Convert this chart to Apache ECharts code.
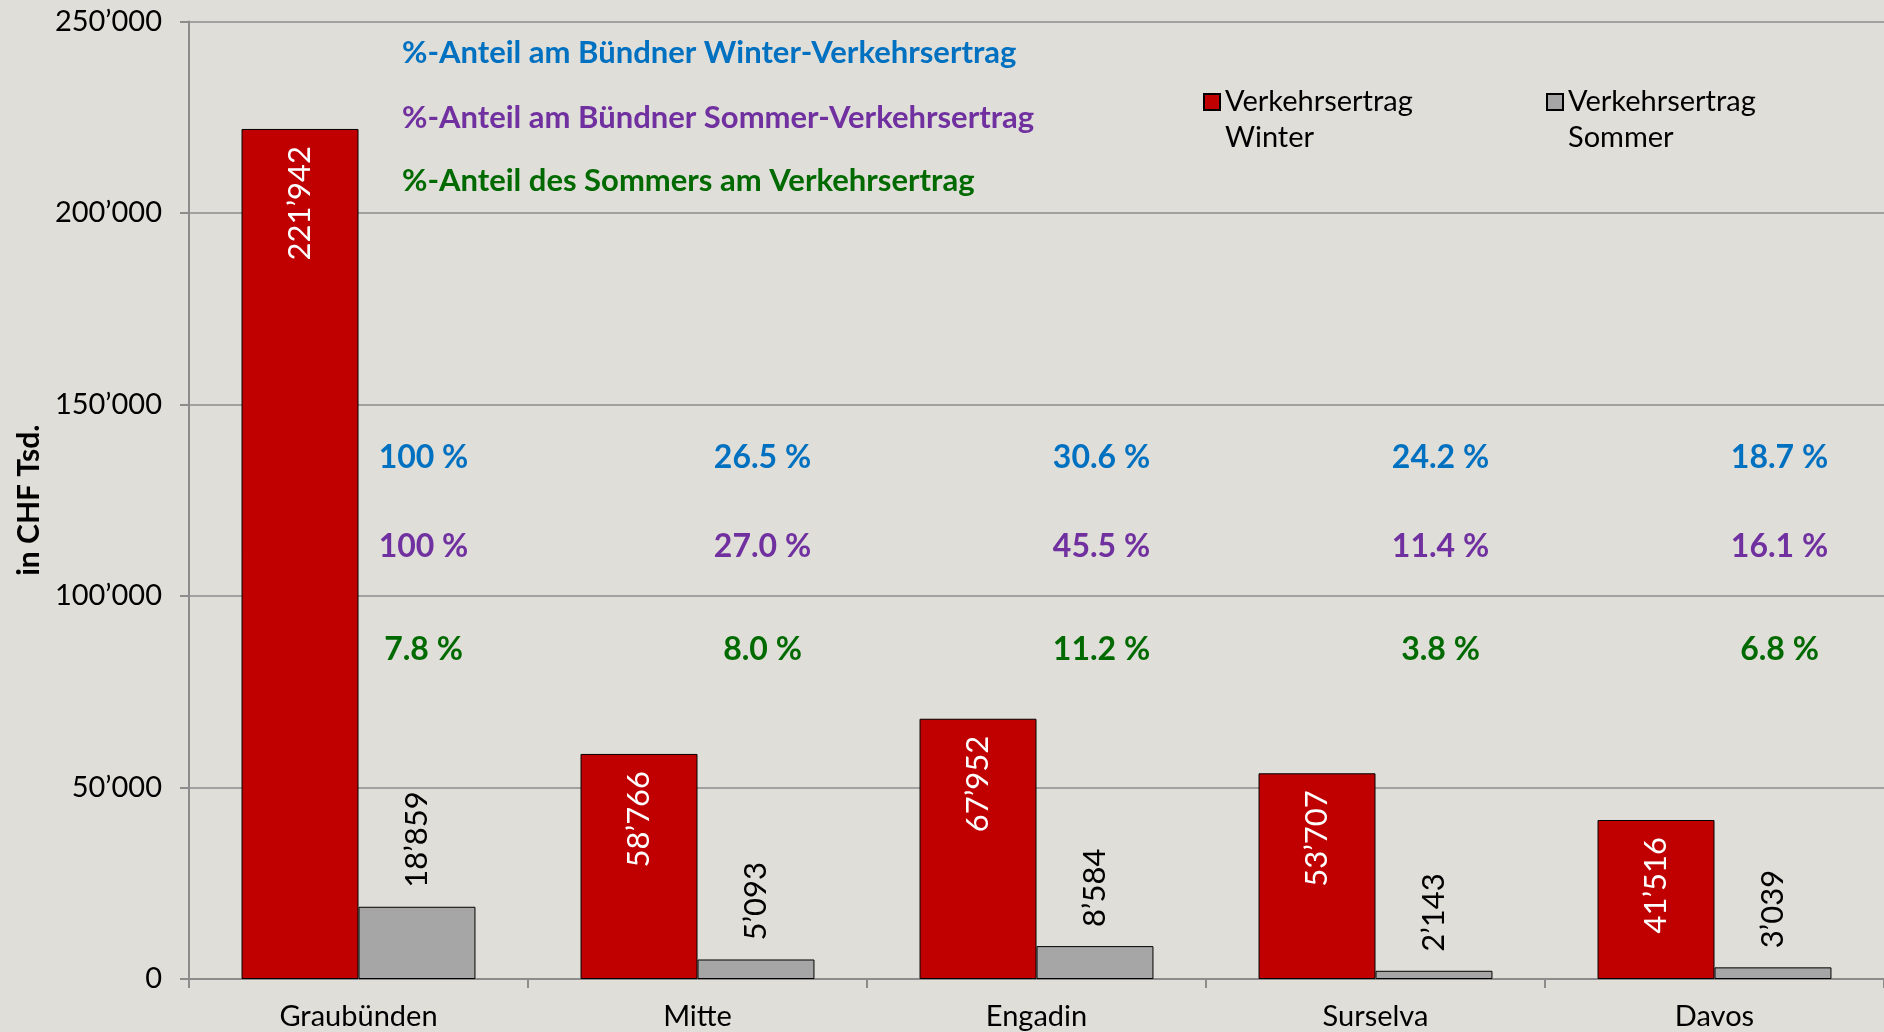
<!DOCTYPE html>
<html>
<head>
<meta charset="utf-8">
<script src="https://cdn.jsdelivr.net/npm/echarts@6/dist/echarts.min.js"></script>
<style>
html,body{margin:0;padding:0;background:#DFDED8;}
#chart{width:1884px;height:1032px;}
</style>
</head>
<body>
<div id="chart"></div>
<script>
// ---- data ----
var categories = ['Graubünden', 'Mitte', 'Engadin', 'Surselva', 'Davos'];
var winterValues = [221942, 58766, 67952, 53707, 41516];
var summerValues = [18859, 5093, 8584, 2143, 3039];
var shareWinter = ['100 %', '26.5 %', '30.6 %', '24.2 %', '18.7 %'];
var shareSummer = ['100 %', '27.0 %', '45.5 %', '11.4 %', '16.1 %'];
var shareSummerOfTotal = ['7.8 %', '8.0 %', '11.2 %', '3.8 %', '6.8 %'];
var yTicks = [0, 50000, 100000, 150000, 200000, 250000];
var seriesNames = ['Verkehrsertrag\nWinter', 'Verkehrsertrag\nSommer'];
var headerTexts = [
  '%-Anteil am Bündner Winter-Verkehrsertrag',
  '%-Anteil am Bündner Sommer-Verkehrsertrag',
  '%-Anteil des Sommers am Verkehrsertrag'
];

// ---- layout / style ----
var FONT = 'Lato, "Open Sans", sans-serif';
var C_BLUE = '#0070C0', C_PURPLE = '#7030A0', C_GREEN = '#006A00';
var ROW_Y = [136000, 113000, 86000]; // vertical placement of annotation rows (axis units)
var ROW_OFFSET_X = 65;

function fmt(v) {
  return String(v).replace(/\B(?=(\d{3})+(?!\d))/g, '\u2019');
}

function rowSeries(texts, y, color) {
  return {
    type: 'scatter',
    silent: true,
    symbolSize: 0,
    itemStyle: {opacity: 1},
    data: texts.map(function (t, i) { return [i, y]; }),
    label: {
      show: true,
      position: 'inside',
      offset: [ROW_OFFSET_X, 0],
      formatter: function (p) { return texts[p.dataIndex]; },
      color: color,
      opacity: 1,
      textBorderWidth: 0,
      fontFamily: FONT,
      fontWeight: 'bold',
      fontSize: 32
    },
    z: 5
  };
}

function legendAt(name, left) {
  return {
    data: [name],
    left: left, top: 48, padding: 0,
    icon: 'rect',
    itemWidth: 16, itemHeight: 16, itemGap: 6,
    formatter: function (n) { return '\n' + n; },
    textStyle: {fontFamily: FONT, fontSize: 29, color: '#000', lineHeight: 36}
  };
}

var chart = echarts.init(document.getElementById('chart'), null, {renderer: 'canvas'});
var option = {
  backgroundColor: '#DFDED8',
  animation: false,
  grid: {left: 189, right: 0, top: 21.5, bottom: 53},
  legend: [legendAt(seriesNames[0], 1203), legendAt(seriesNames[1], 1546)],
  xAxis: {
    type: 'category',
    data: categories,
    boundaryGap: true,
    axisLine: {lineStyle: {color: '#8C8C8C', width: 2}},
    axisTick: {show: true, length: 9, interval: 0, alignWithLabel: false, lineStyle: {color: '#8C8C8C', width: 2}},
    axisLabel: {fontFamily: FONT, fontSize: 29, color: '#000', margin: 23, interval: 0}
  },
  yAxis: {
    type: 'value',
    min: yTicks[0], max: yTicks[yTicks.length - 1], interval: yTicks[1] - yTicks[0],
    name: 'in CHF Tsd.',
    nameLocation: 'middle',
    nameGap: 144,
    nameTextStyle: {fontFamily: FONT, fontSize: 30, fontWeight: 'bold', color: '#000'},
    axisLine: {show: true, lineStyle: {color: '#8C8C8C', width: 2}},
    axisTick: {show: true, length: 9, lineStyle: {color: '#8C8C8C', width: 2}},
    axisLabel: {fontFamily: FONT, fontSize: 29, color: '#000', margin: 27, formatter: fmt},
    splitLine: {show: true, lineStyle: {color: '#8C8C8C', width: 1.5}}
  },
  graphic: [
    {type: 'text', x: 402, y: 53, style: {text: headerTexts[0], fill: C_BLUE, font: 'bold 31px ' + FONT, verticalAlign: 'middle'}},
    {type: 'text', x: 402, y: 118, style: {text: headerTexts[1], fill: C_PURPLE, font: 'bold 31px ' + FONT, verticalAlign: 'middle'}},
    {type: 'text', x: 402, y: 181, style: {text: headerTexts[2], fill: C_GREEN, font: 'bold 31px ' + FONT, verticalAlign: 'middle'}}
  ],
  series: [
    {
      name: seriesNames[0],
      type: 'bar',
      data: winterValues,
      barGap: '0%',
      barCategoryGap: '31%',
      itemStyle: {color: '#C00000', borderColor: '#000', borderWidth: 1},
      label: {
        show: true, position: 'insideTop', rotate: 90, align: 'right', verticalAlign: 'middle',
        distance: 17, color: '#fff', fontFamily: FONT, fontSize: 31,
        formatter: function (p) { return fmt(p.value); }
      }
    },
    {
      name: seriesNames[1],
      type: 'bar',
      data: summerValues,
      itemStyle: {color: '#A6A6A6', borderColor: '#000', borderWidth: 1},
      label: {
        show: true, position: 'top', rotate: 90, align: 'left', verticalAlign: 'middle',
        distance: 19, color: '#000', fontFamily: FONT, fontSize: 31,
        formatter: function (p) { return fmt(p.value); }
      }
    },
    rowSeries(shareWinter, ROW_Y[0], C_BLUE),
    rowSeries(shareSummer, ROW_Y[1], C_PURPLE),
    rowSeries(shareSummerOfTotal, ROW_Y[2], C_GREEN)
  ]
};
chart.setOption(option);
</script>
</body>
</html>
